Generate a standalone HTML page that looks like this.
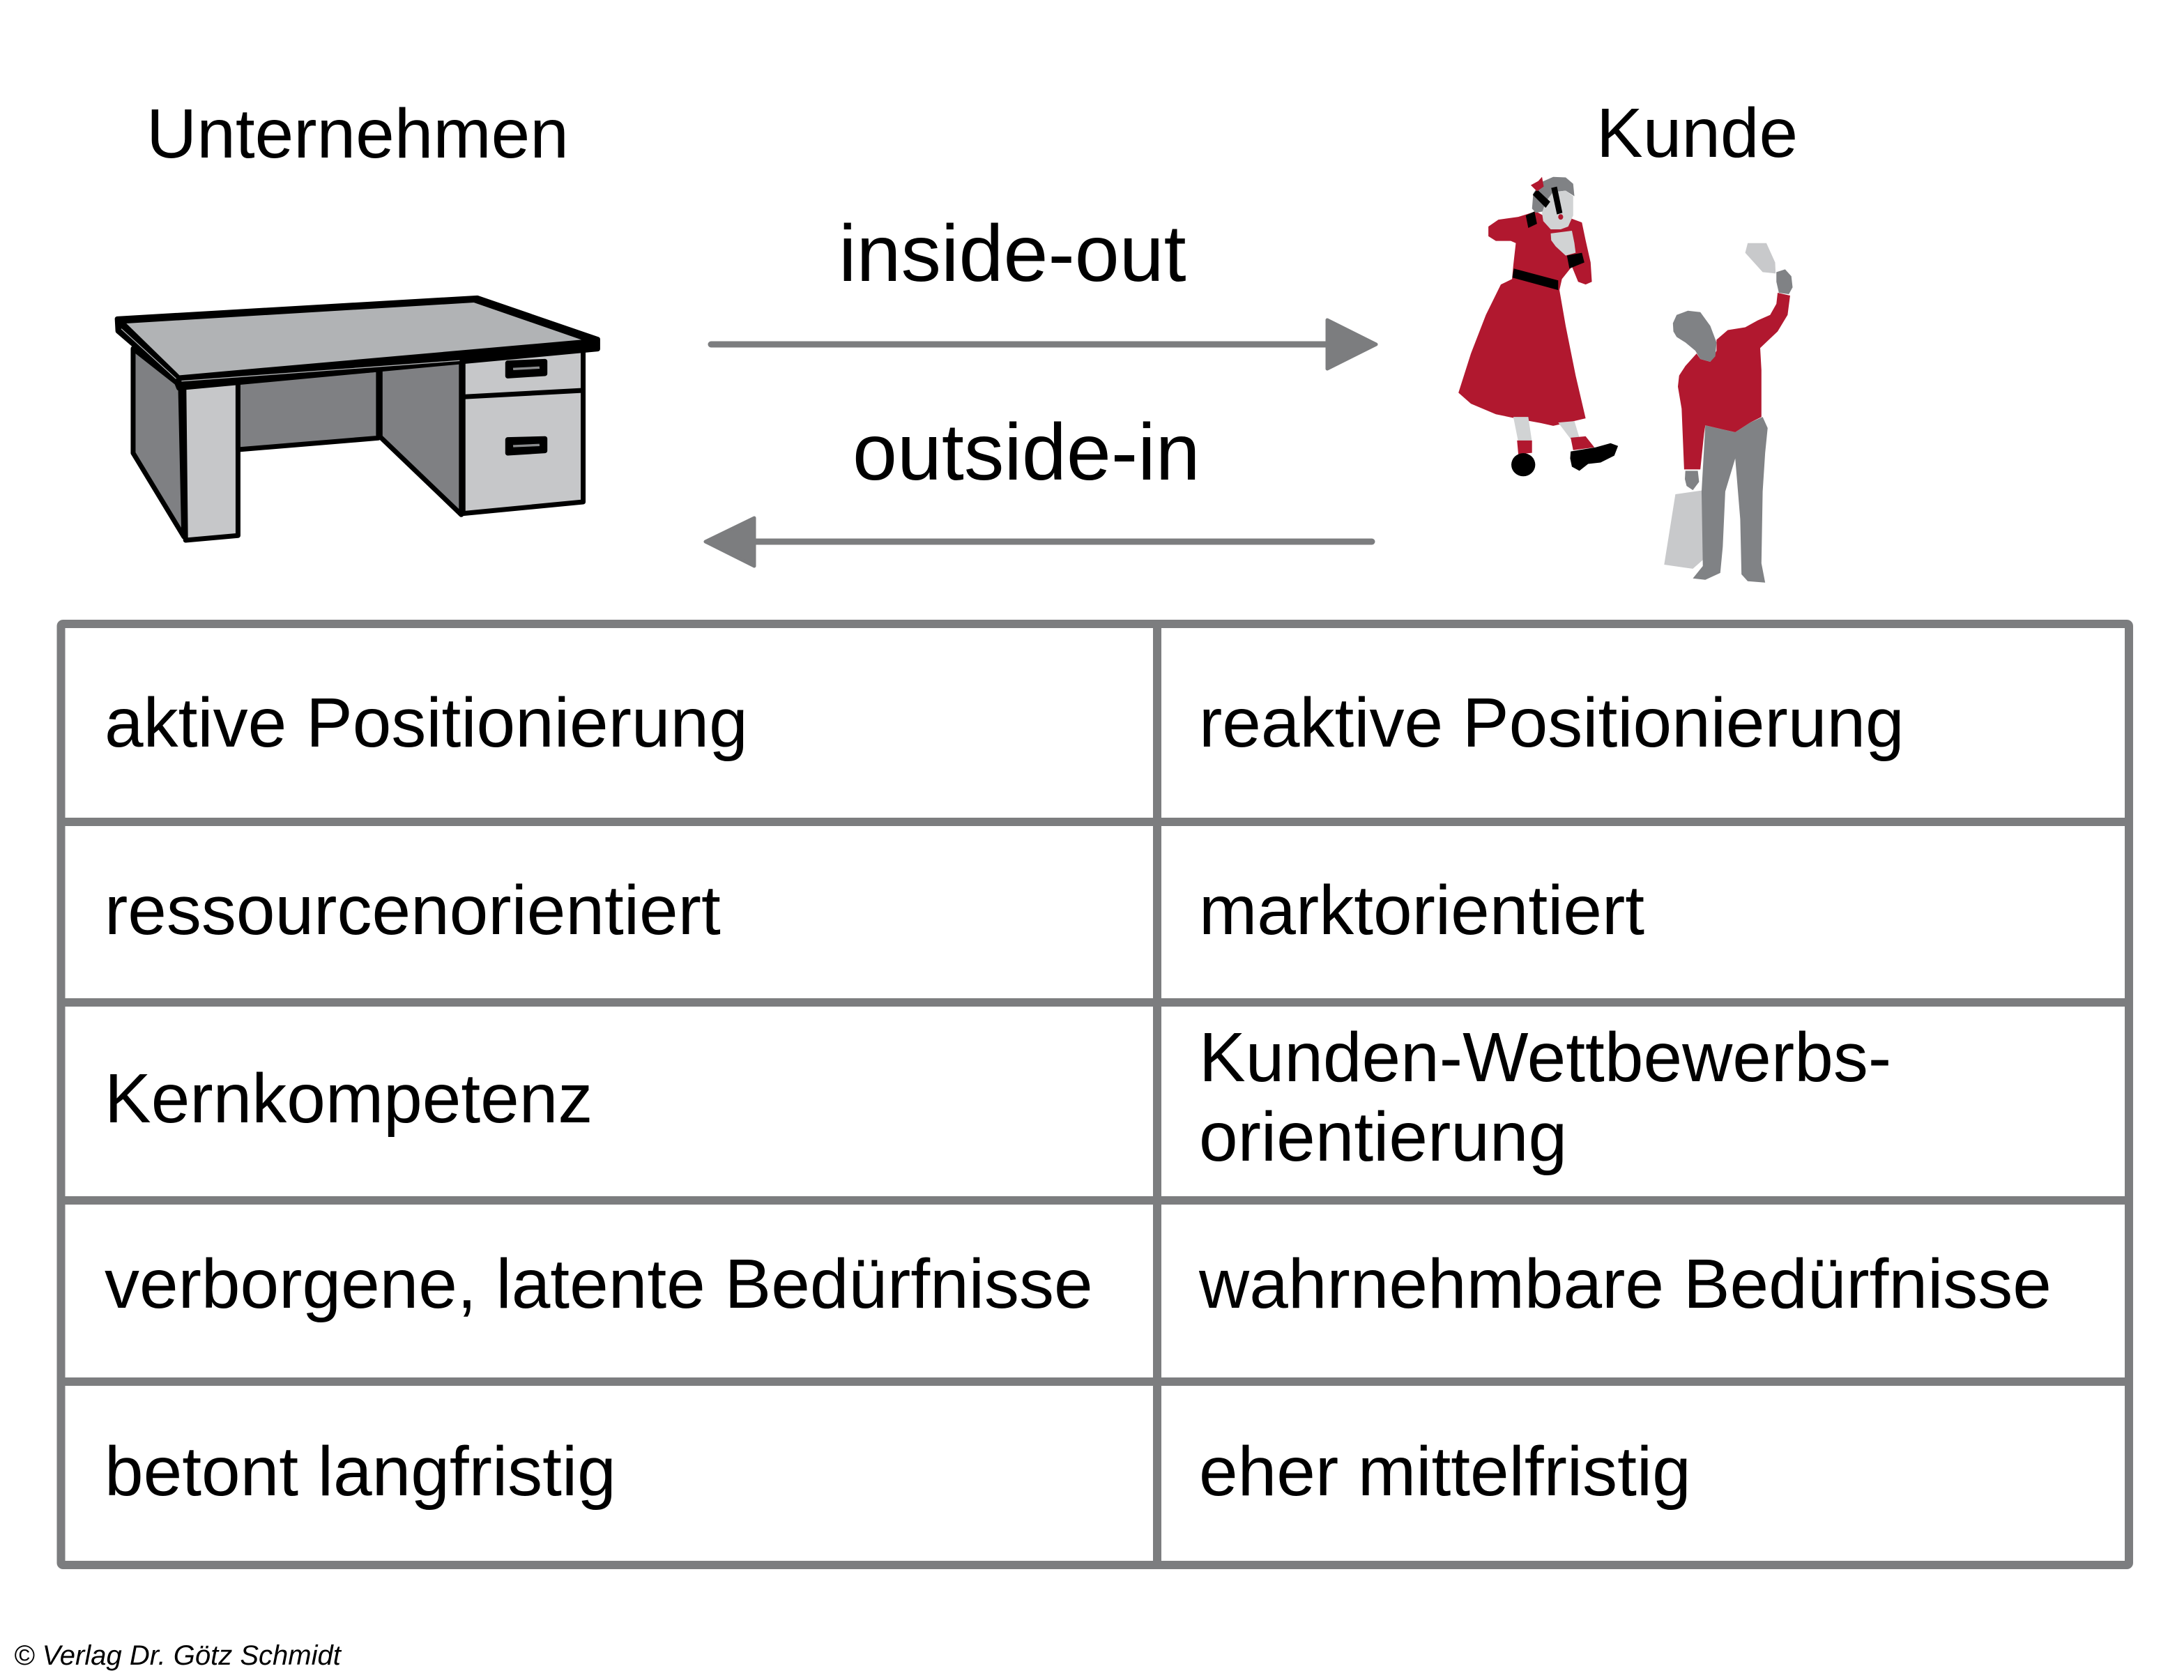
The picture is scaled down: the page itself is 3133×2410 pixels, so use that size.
<!DOCTYPE html>
<html>
<head>
<meta charset="utf-8">
<style>
  html, body { margin: 0; padding: 0; background: #ffffff; }
  body { width: 3133px; height: 2410px; overflow: hidden; }
  svg { display: block; }
  text { font-family: "Liberation Sans", Arial, sans-serif; fill: #000; }
</style>
</head>
<body>
<svg width="3133" height="2410" viewBox="0 0 3133 2410" xmlns="http://www.w3.org/2000/svg">
  <rect x="0" y="0" width="3133" height="2410" fill="#ffffff"/>

  <!-- Headers -->
  <text x="210" y="226" font-size="100">Unternehmen</text>
  <text x="2290" y="225" font-size="100">Kunde</text>

  <!-- Arrow labels -->
  <text x="1203" y="403" font-size="115">inside-out</text>
  <text x="1223" y="688" font-size="115">outside-in</text>

  <!-- Arrows -->
  <g fill="#7c7d7f" stroke="#7c7d7f" stroke-linejoin="round" stroke-linecap="round">
    <line x1="1020" y1="494" x2="1910" y2="494" stroke-width="9"/>
    <polygon points="1904,459 1974,494 1904,529" stroke-width="5"/>
    <line x1="1968" y1="777" x2="1078" y2="777" stroke-width="9"/>
    <polygon points="1082,743 1012,777 1082,812" stroke-width="5"/>
  </g>

  <!-- Desk -->
  <g transform="translate(140,400) scale(0.4854,0.3333)" stroke="#000" stroke-width="7" stroke-linejoin="round">
    <polygon vector-effect="non-scaling-stroke" points="105,300 245,460 255,1110 105,750" fill="#7f8083"/>
    <polygon vector-effect="non-scaling-stroke" points="255,455 415,440 415,1105 260,1125" fill="#c6c7c9"/>
    <polygon vector-effect="non-scaling-stroke" points="415,440 830,390 830,685 415,735" fill="#7f8083"/>
    <polygon vector-effect="non-scaling-stroke" points="835,380 1075,350 1075,1015 835,680" fill="#7f8083"/>
    <polygon vector-effect="non-scaling-stroke" points="1080,345 1435,305 1435,960 1080,1010" fill="#c6c7c9"/>
    <line vector-effect="non-scaling-stroke" x1="1080" y1="508" x2="1435" y2="480"/>
    <polygon vector-effect="non-scaling-stroke" points="1212,362 1322,355 1322,408 1212,418" fill="#000"/>
    <line x1="1228" y1="388" x2="1306" y2="382" stroke="#8a8b8d" stroke-width="10"/>
    <polygon vector-effect="non-scaling-stroke" points="1212,692 1322,688 1322,740 1212,750" fill="#000"/>
    <line x1="1228" y1="720" x2="1306" y2="715" stroke="#8a8b8d" stroke-width="10"/>
    <!-- top slab -->
    <polygon vector-effect="non-scaling-stroke" points="58,172 1122,82 1478,260 1478,302 240,470 232,440 60,225" fill="#000"/>
    <polygon points="85,192 1112,102 1430,262 242,415" fill="#b1b3b5" stroke="none"/>
    <line x1="248" y1="440" x2="1070" y2="352" stroke="#b1b3b5" stroke-width="4"/>
    <line x1="70" y1="215" x2="232" y2="430" stroke="#b1b3b5" stroke-width="3"/>
  </g>

  <!-- People -->
  <g transform="translate(2060,230) scale(0.3577,0.3959)" stroke="none">
    <!-- Woman -->
    <path d="M210,240 L250,215 L330,205 L400,185 L430,200 L470,230 L540,210 L585,225 L600,290 L620,370 L625,440 L600,450 L570,440 L545,385 L505,430 L495,470 L520,600 L560,780 L600,935 L520,952 L470,962 L420,952 L330,937 L240,920 L140,882 L90,842 L140,700 L200,560 L260,450 L305,430 L310,380 L320,300 L300,292 L240,292 L210,275 Z" fill="#b1182f"/>
    <polygon points="360,200 395,185 405,230 370,245" fill="#000"/>
    <polygon points="312,392 490,435 490,470 306,425" fill="#000"/>
    <polygon points="525,345 585,335 595,370 535,392" fill="#000"/>
    <polygon points="460,265 545,255 555,300 560,335 520,345 480,312 462,290" fill="#d1d3d4"/>
    <polygon points="385,175 390,120 420,80 470,60 520,62 550,85 555,130 520,110 470,115 440,150 430,185 400,190" fill="#808285"/>
    <polygon points="440,150 470,115 520,110 550,130 550,200 530,240 500,250 460,250 430,220 425,190" fill="#d1d3d4"/>
    <polygon points="388,125 405,105 458,150 440,172" fill="#000"/>
    <polygon points="462,100 485,95 507,190 485,196" fill="#000"/>
    <polygon points="380,90 410,75 425,60 432,95 405,112" fill="#b1182f"/>
    <circle cx="500" cy="205" r="10" fill="#b1182f"/>
    <polygon points="310,930 370,930 385,1020 330,1020" fill="#d1d3d4"/>
    <polygon points="490,950 555,945 575,1005 540,1010" fill="#d1d3d4"/>
    <polygon points="325,1015 385,1015 385,1060 330,1065" fill="#b1182f"/>
    <polygon points="540,1005 600,1000 635,1040 550,1050" fill="#b1182f"/>
    <ellipse cx="350" cy="1103" rx="48" ry="42" fill="#000"/>
    <polygon points="540,1055 640,1040 700,1025 730,1035 715,1070 660,1095 610,1100 575,1125 545,1110 538,1080" fill="#000"/>

    <!-- Man -->
    <polygon points="1250,300 1325,300 1360,370 1362,410 1310,405 1240,335" fill="#c8c9cb"/>
    <polygon points="915,1465 960,1210 1075,1195 1080,1440 1030,1480" fill="#c8c9cb"/>
    <path d="M1080,960 L1150,975 L1200,985 L1260,950 L1310,930 L1330,970 L1320,1060 L1310,1200 L1305,1460 L1320,1530 L1250,1525 L1225,1500 L1220,1300 L1200,1080 L1160,1200 L1150,1400 L1140,1495 L1080,1520 L1030,1515 L1070,1470 L1065,1200 Z" fill="#808285"/>
    <path d="M1045,700 L1060,720 L1100,730 L1125,690 L1125,650 L1170,615 L1240,605 L1290,580 L1340,560 L1365,520 L1370,480 L1420,490 L1410,560 L1370,620 L1300,680 L1305,760 L1305,930 L1260,950 L1200,985 L1150,975 L1080,960 L1075,990 L1060,1120 L995,1120 L985,900 L970,820 L975,780 L1000,745 Z" fill="#b1182f"/>
    <polygon points="950,590 965,560 1010,545 1060,550 1100,600 1125,660 1120,710 1100,730 1060,720 1040,690 1000,660 965,640 952,620" fill="#808285"/>
    <polygon points="1365,405 1400,395 1425,420 1430,460 1415,485 1375,480 1365,440" fill="#808285"/>
    <polygon points="1000,1125 1050,1125 1055,1165 1030,1195 1005,1180 998,1155" fill="#808285"/>
  </g>

  <!-- Table -->
  <g stroke="#7c7d7f" stroke-width="12" fill="none">
    <rect x="87.5" y="895" width="2966.5" height="1350" rx="3"/>
    <line x1="1660" y1="895" x2="1660" y2="2245"/>
    <line x1="87.5" y1="1179" x2="3054" y2="1179"/>
    <line x1="87.5" y1="1438" x2="3054" y2="1438"/>
    <line x1="87.5" y1="1722" x2="3054" y2="1722"/>
    <line x1="87.5" y1="1982" x2="3054" y2="1982"/>
  </g>

  <g font-size="100">
    <text x="150" y="1071">aktive Positionierung</text>
    <text x="1720" y="1071">reaktive Positionierung</text>
    <text x="150" y="1340">ressourcenorientiert</text>
    <text x="1720" y="1340">marktorientiert</text>
    <text x="150" y="1610">Kernkompetenz</text>
    <text x="1720" y="1551">Kunden-Wettbewerbs-</text>
    <text x="1720" y="1665">orientierung</text>
    <text x="150" y="1876">verborgene, latente Bedürfnisse</text>
    <text x="1720" y="1876">wahrnehmbare Bedürfnisse</text>
    <text x="150" y="2145">betont langfristig</text>
    <text x="1720" y="2145">eher mittelfristig</text>
  </g>

  <!-- Copyright -->
  <text x="20" y="2388" font-size="40" font-style="italic">© Verlag Dr. Götz Schmidt</text>
</svg>
</body>
</html>
